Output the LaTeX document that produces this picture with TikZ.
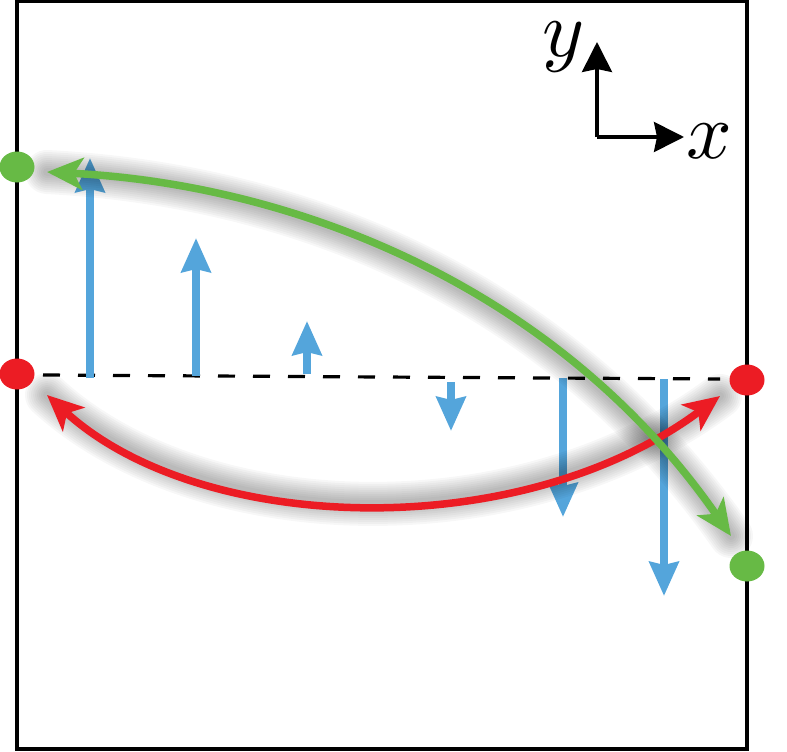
\documentclass[tikz,border=0pt]{standalone}
\usetikzlibrary{arrows.meta,shapes.geometric}
\definecolor{cgreen}{RGB}{103,186,69}
\definecolor{cred}{RGB}{236,28,36}
\definecolor{cblue}{RGB}{84,165,219}
\tikzset{
  dot/.style={ellipse, minimum width=35pt, minimum height=31pt, inner sep=0pt, draw=none},
  bluearrow/.style={draw=cblue, line width=7.5pt, -{Stealth[length=34pt, width=29pt, inset=3pt]}},
  curvearrow/.style={line width=7.5pt, {Stealth[length=36pt, width=32pt, inset=9pt]}-{Stealth[length=36pt, width=32pt, inset=9pt]}},
  axisarrow/.style={draw=black, line width=3.2pt, -{Stealth[length=30pt, width=30pt, inset=3pt]}},
  baseline/.style={draw=black, line width=3.2pt, dash pattern=on 17pt off 18pt},
  frameline/.style={draw=black, line width=3.5pt},
  axislabel/.style={inner sep=0pt, scale=8},
  shadowline/.style={draw=black, line cap=round, shift={(10,19)}}
}
\begin{document}
\begin{tikzpicture}[x=1pt, y=-1pt]
\useasboundingbox (0,0) rectangle (787,752);
% frame
\draw[frameline] (17,1.75) rectangle (747,749);
% baseline
\coordinate (b0) at (43,375);
\coordinate (b1) at (720,379);
\draw[baseline] (b0) -- (b1);
% blue arrows
\coordinate (a1s) at (90,378);  \coordinate (a1e) at (90,158);
\coordinate (a2s) at (196,376); \coordinate (a2e) at (196,238);
\coordinate (a3s) at (307,374); \coordinate (a3e) at (307,321);
\coordinate (a4s) at (451,382); \coordinate (a4e) at (451,431);
\coordinate (a5s) at (563,378); \coordinate (a5e) at (563,517);
\coordinate (a6s) at (664,379); \coordinate (a6e) at (664,596);
\foreach \i in {1,...,6} { \draw[bluearrow] (a\i s) -- (a\i e); }
% curve end points and controls
\coordinate (gL) at (47,172);
\coordinate (gR) at (731,536);
\coordinate (gc1) at (300,185);
\coordinate (gc2) at (560,290);
\coordinate (rL) at (47,395);
\coordinate (rR) at (720,396);
\coordinate (rc1) at (200,535);
\coordinate (rc2) at (520,545);
% soft shadows
\foreach \w in {44,40,36,32,28,24,20,16,12,8} {
  \draw[shadowline, line width=\w pt, opacity=0.03]
    (rL) .. controls (rc1) and (rc2) .. (rR);
  \draw[shadowline, line width=\w pt, opacity=0.03]
    (gL) .. controls (gc1) and (gc2) .. (gR);
}
% curves
\draw[curvearrow, draw=cred] (rL) .. controls (rc1) and (rc2) .. (rR);
\draw[curvearrow, draw=cgreen] (gL) .. controls (gc1) and (gc2) .. (gR);
% dots
\node[dot, fill=cgreen] (gdotL) at (17,167) {};
\node[dot, fill=cgreen] (gdotR) at (747,566) {};
\node[dot, fill=cred] (rdotL) at (17,374) {};
\node[dot, fill=cred] (rdotR) at (747,380) {};
% axes
\coordinate (o) at (597,137);
\coordinate (ytip) at (597,42);
\coordinate (xtip) at (684,137);
\draw[axisarrow] (o) -- (ytip);
\draw[axisarrow] (o) -- (xtip);
\node[axislabel] (ylab) at (564,47) {$y$};
\node[axislabel] (xlab) at (709,141) {$x$};
\end{tikzpicture}
\end{document}
